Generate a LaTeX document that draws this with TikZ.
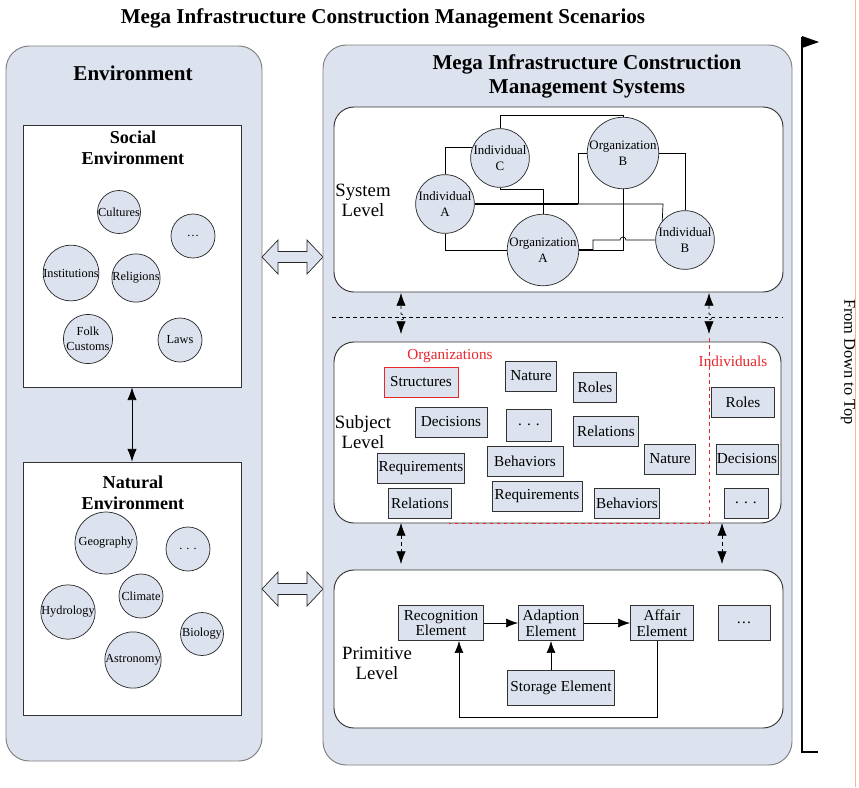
\documentclass[tikz,border=0pt]{standalone}
\usepackage{fontspec}
\setmainfont{Liberation Serif}
\usetikzlibrary{arrows.meta}
\definecolor{paleblue}{HTML}{DCE3EE}
\definecolor{edgegray}{HTML}{7F7F7F}
\definecolor{hilite}{HTML}{E8262C}
\definecolor{pagerule}{HTML}{F6B894}

\begin{document}
\begin{tikzpicture}[x=0.3mm,y=-0.3mm,
  panel/.style={draw=edgegray,fill=paleblue,line width=0.8pt,rounded corners=7mm},
  lvl/.style={draw=black!80,fill=white,line width=0.8pt,rounded corners=6mm},
  envbox/.style={draw=black!80,fill=white,line width=0.7pt,inner sep=0pt},
  circ/.style={circle,draw=black!85,fill=paleblue,line width=0.6pt,inner sep=0pt,
    minimum size=#1*0.6mm,align=center,font=\fontsize{10.5}{13}\selectfont},
  sysc/.style={circ=#1,font=\fontsize{11}{14}\selectfont},
  sbox/.style={draw=black!80,fill=paleblue,line width=0.8pt,inner sep=0pt,
    minimum height=9mm,minimum width=#1*0.3mm,font=\fontsize{13}{15}\selectfont},
  pbox/.style={sbox=#1,minimum height=10.5mm,align=center,font=\fontsize{13}{13.5}\selectfont},
  wire/.style={line width=0.6pt},
  onehead/.style={-{Latex[length=3.6mm,width=2.7mm]}},
  twohead/.style={{Latex[length=3.8mm,width=2.8mm]}-{Latex[length=3.8mm,width=2.8mm]}},
  lvlname/.style={align=center,font=\fontsize{16}{17}\selectfont},
  heading/.style={align=center,font=\bfseries\fontsize{18}{21}\selectfont}]
\useasboundingbox (0,0) rectangle (859,787);
\draw[pagerule,line width=0.5pt] (855,0) -- (855,787);

%title
\node[heading] (title) at (383,18) {Mega Infrastructure Construction Management Scenarios};

%environment side
\draw[panel] (6,46) rectangle (262,761);
\node[heading] (envtitle) at (133,73) {Environment};
\node[envbox,minimum width=218*0.3mm,minimum height=262*0.3mm] (socenv) at (132,256) {};
\node[envbox,minimum width=218*0.3mm,minimum height=253*0.3mm] (natenv) at (132,588.5) {};
\node[heading,font=\bfseries\fontsize{15.5}{18}\selectfont] (soctitle) at (133,147.5) {Social\\Environment};
\node[heading,font=\bfseries\fontsize{15.5}{18}\selectfont] (nattitle) at (133,492.5) {Natural\\Environment};

\node[circ=21.5] (cult) at (119,212) {Cultures};
\node[circ=22] (sdots) at (193,236) {…};
\node[circ=22] (inst) at (71,273) {Institutions};
\node[circ=22] (relig) at (136,278) {Religions};
\node[circ=22] (folk) at (88,339) {Folk\\Customs};
\node[circ=22] (laws) at (180,340) {Laws};

\node[circ=31] (geo) at (106,543) {Geography};
\node[circ=22] (ndots) at (188,549) {. . .};
\node[circ=22] (clim) at (141,596) {Climate};
\node[circ=27] (hydro) at (68,612) {Hydrology};
\node[circ=21.5] (bio) at (202,634) {Biology};
\node[circ=27] (astro) at (133,660) {Astronomy};

\draw[wire,twohead] (socenv.south) -- (natenv.north);

%block arrows between the two sides
\foreach \y in {257,589}
  \draw[draw=black!85,fill=paleblue,line width=0.6pt] (262,\y) -- ++(16,-17) -- ++(0,11.5)
    -- ++(29,0) -- ++(0,-11.5) -- ++(16,17) -- ++(-16,17) -- ++(0,-11.5) -- ++(-29,0)
    -- ++(0,11.5) -- cycle;

%systems side
\draw[panel] (323,45) rectangle (792,765);
\node[heading] (systitle) at (587,76.5) {Mega Infrastructure Construction\\Management Systems};
\draw[lvl] (334,107) rectangle (783,292);
\draw[lvl] (334,342) rectangle (781,523);
\draw[lvl] (334,570) rectangle (783,728);
\node[lvlname] (sysname) at (363,200) {System\\Level};
\node[lvlname] (subname) at (363,432) {Subject\\Level};
\node[lvlname] (primname) at (377,663) {Primitive\\Level};

%system level
\node[sysc=25.5] (indC) at (500,158) {Individual\\C};
\node[sysc=31.5] (orgB) at (623,153) {Organization\\B};
\node[sysc=27] (indA) at (445,204) {Individual\\A};
\node[sysc=35] (orgA) at (543,250) {Organization\\A};
\node[sysc=28.5] (indB) at (685,240) {Individual\\B};

\coordinate (hub) at (578,204);
\draw[wire] (indC.north) |- (623,115) -- (orgB.north);
\draw[wire] (indC.158) -| (indA.north);
\draw[wire] (indC.south) |- (543,189) -- (orgA.north);
\draw[wire,line width=1.3pt] (indA.east) -- (hub);
\draw[wire] (hub) |- (orgB.west);
\draw[wire] (hub) -- (663,204) -- (indB.140);
\draw[wire] (indA.south) |- (orgA.west);
\draw[wire] (orgB.south) |- (orgA.east);
\draw[wire,line width=1.3pt] (orgA.east) -- (593,250);
\draw[wire] (593,250) -- (593,240) -- (620,240) arc[start angle=180,end angle=360,radius=3] -- (indB.west);
\draw[wire] (orgB.east) -| (indB.north);

%links between levels
\draw[dashed,line width=0.6pt] (332,317) -- (783,317);
\foreach \x in {401,709}
  \draw[wire,dashed,twohead] (\x,293) -- (\x,314) arc[start angle=-90,end angle=90,radius=3] -- (\x,334);
\foreach \x in {401,722}
  \draw[wire,dashed,twohead] (\x,523) -- (\x,564);

%subject level
\draw[hilite,dashed,line width=0.7pt] (709,338) -- (709,523) -- (449,523);
\node[text=hilite,font=\fontsize{13}{15}\selectfont] (orglab) at (450,356) {Organizations};
\node[text=hilite,font=\fontsize{13}{15}\selectfont] (indlab) at (733,361) {Individuals};

\node[sbox=74,draw=hilite] (struct) at (421,382) {Structures};
\node[sbox=51] (natA) at (531,376) {Nature};
\node[sbox=43] (rolA) at (595,387) {Roles};
\node[sbox=72] (decA) at (451,422) {Decisions};
\node[sbox=45,minimum height=9.6mm] (dotsA) at (529,425) {. . .};
\node[sbox=65] (relA) at (606,431) {Relations};
\node[sbox=87] (reqA) at (421,468) {Requirements};
\node[sbox=76] (behA) at (525,461) {Behaviors};
\node[sbox=51] (natB) at (670,459) {Nature};
\node[sbox=63] (relB) at (420,503) {Relations};
\node[sbox=90] (reqB) at (537,496) {Requirements};
\node[sbox=65] (behB) at (627,503) {Behaviors};
\node[sbox=63] (rolB) at (743,402) {Roles};
\node[sbox=62] (decB) at (747,459) {Decisions};
\node[sbox=44] (dotsB) at (746,503) {. . .};

%primitive level
\node[pbox=85] (recog) at (441,623) {Recognition\\Element};
\node[pbox=65] (adapt) at (551,623) {Adaption\\Element};
\node[pbox=63] (affair) at (662,623) {Affair\\Element};
\node[pbox=52] (pdots) at (744,623) {…};
\node[pbox=107] (store) at (561,688) {Storage Element};
\coordinate (fbR) at (657,717);
\coordinate (fbL) at (459,717);
\draw[wire,onehead] (recog) -- (adapt);
\draw[wire,onehead] (adapt) -- (affair);
\draw[wire,onehead] (store.north -| adapt) -- (adapt.south);
\draw[wire,onehead] (affair.south -| fbR) -- (fbR) -- (fbL) -- (recog.south -| fbL);

%direction bar
\draw[line width=0.9pt] (818,752) -- (802,752) -- (802,37);
\fill (802,36) -- (819,42) -- (802,48) -- cycle;
\node[rotate=-90,font=\fontsize{14}{16}\selectfont] (dir) at (848,362) {From Down to Top};
\end{tikzpicture}
\end{document}
